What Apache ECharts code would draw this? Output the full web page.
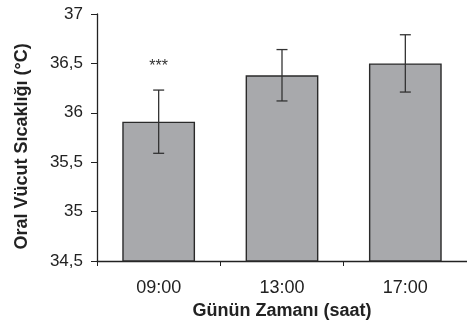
<!DOCTYPE html>
<html>
<head>
<meta charset="utf-8">
<script src="https://cdn.jsdelivr.net/npm/echarts@6/dist/echarts.min.js"></script>
<style>
  html, body { margin: 0; padding: 0; background: #fff; }
  #chart { width: 467px; height: 326px; }
</style>
</head>
<body>
<div id="chart"></div>
<script>
// saat kategorileri ve ortalama oral sıcaklık
const categories = ['09:00', '13:00', '17:00']
const means = [35.91, 36.38, 36.5]
const errors = [0.32, 0.26, 0.29]
const sigMarks = ['***', '', '']

const chart = echarts.init(document.getElementById('chart'))
const font = 'Liberation Sans, Arial, Helvetica, sans-serif'

// hata çubukları için [index, alt, üst, işaret]
const errData = means.map((m, i) => [i, m - errors[i], m + errors[i], sigMarks[i]])

const option = {
  animation: false,
  grid: { left: 97, top: 14, bottom: 65, right: -18 },
  xAxis: {
    type: 'category',
    data: categories,
    name: 'Günün Zamanı (saat)',
    nameLocation: 'middle',
    nameGap: 41,
    nameTextStyle: { fontFamily: font, fontSize: 18, fontWeight: 'bold', color: '#222', verticalAlign: 'top' },
    axisLine: { lineStyle: { color: '#222', width: 1.3 } },
    axisTick: { show: true, length: 5, lineStyle: { color: '#222' } },
    axisLabel: { fontFamily: font, fontSize: 18, color: '#222', margin: 18 }
  },
  yAxis: {
    type: 'value',
    min: 34.5,
    max: 37,
    interval: 0.5,
    name: 'Oral Vücut Sıcaklığı (°C)',
    nameLocation: 'middle',
    nameGap: 66,
    nameTextStyle: {
      fontFamily: font, fontSize: 18, fontWeight: 'bold', color: '#222',
      padding: [0, 18, 0, 0]
    },
    axisLine: { show: true, lineStyle: { color: '#222', width: 1.3 } },
    axisTick: { show: true, length: 6, lineStyle: { color: '#222' } },
    axisLabel: {
      fontFamily: font, fontSize: 17, color: '#222', margin: 14,
      formatter: v => String(v).replace('.', ',')
    },
    splitLine: { show: false }
  },
  series: [
    {
      type: 'bar',
      data: means,
      barWidth: '59%',
      itemStyle: { color: '#a8a9ac', borderColor: '#2a2a2a', borderWidth: 1.4 }
    },
    {
      type: 'custom',
      data: errData,
      z: 10,
      renderItem: function (params, api) {
        const x = api.coord([api.value(0), api.value(1)])[0]
        const lo = api.coord([api.value(0), api.value(1)])[1]
        const hi = api.coord([api.value(0), api.value(2)])[1]
        const half = 5.5
        const style = { stroke: '#333', lineWidth: 1.3 }
        const children = [
          { type: 'line', shape: { x1: x, y1: lo, x2: x, y2: hi }, style: style },
          { type: 'line', shape: { x1: x - half, y1: lo, x2: x + half, y2: lo }, style: style },
          { type: 'line', shape: { x1: x - half, y1: hi, x2: x + half, y2: hi }, style: style }
        ]
        const mark = errData[params.dataIndex][3]
        if (mark) {
          children.push({
            type: 'text',
            style: {
              text: mark, x: x, y: hi - 23,
              align: 'center', verticalAlign: 'middle',
              fontFamily: font, fontSize: 16, fill: '#333'
            }
          })
        }
        return { type: 'group', children: children }
      }
    }
  ]
}

chart.setOption(option)
</script>
</body>
</html>
